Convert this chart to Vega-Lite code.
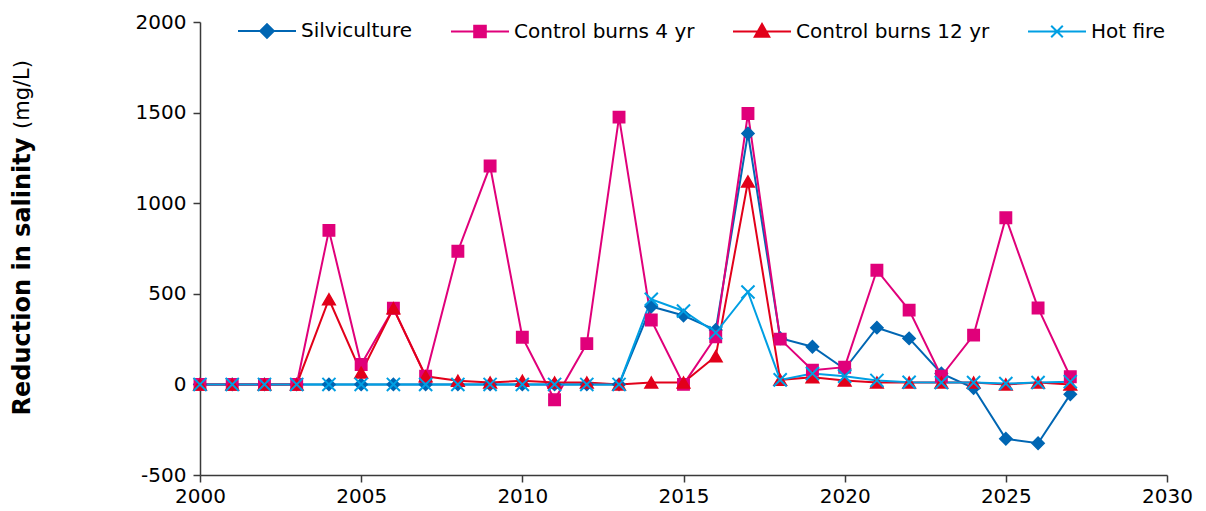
{
  "$schema": "https://vega.github.io/schema/vega-lite/v6.json",
  "width": 967,
  "height": 453,
  "autosize": {"type": "none"},
  "padding": {"left": 200, "top": 22, "right": 39, "bottom": 36},
  "background": "white",
  "config": {
    "view": {"stroke": null},
    "axis": {
      "grid": false,
      "domainColor": "#3a3a3a",
      "domainWidth": 1.5,
      "tickColor": "#3a3a3a",
      "tickWidth": 1.5,
      "tickSize": 7,
      "labelFont": "DejaVu Sans",
      "labelFontSize": 20,
      "labelColor": "#000000",
      "labelFlush": false,
      "titleFont": "DejaVu Sans",
      "titleColor": "#000000"
    }
  },
  "data": {
    "values": [
      {"year": 2000, "Silviculture": 0, "Control burns 4 yr": 0, "Control burns 12 yr": 0, "Hot fire": 0},
      {"year": 2001, "Silviculture": 0, "Control burns 4 yr": 0, "Control burns 12 yr": 0, "Hot fire": 0},
      {"year": 2002, "Silviculture": 0, "Control burns 4 yr": 0, "Control burns 12 yr": 0, "Hot fire": 0},
      {"year": 2003, "Silviculture": 0, "Control burns 4 yr": 0, "Control burns 12 yr": 0, "Hot fire": 0},
      {"year": 2004, "Silviculture": 0, "Control burns 4 yr": 850, "Control burns 12 yr": 470, "Hot fire": 0},
      {"year": 2005, "Silviculture": 0, "Control burns 4 yr": 110, "Control burns 12 yr": 65, "Hot fire": 0},
      {"year": 2006, "Silviculture": 0, "Control burns 4 yr": 420, "Control burns 12 yr": 420, "Hot fire": 0},
      {"year": 2007, "Silviculture": 0, "Control burns 4 yr": 45, "Control burns 12 yr": 45, "Hot fire": 0},
      {"year": 2008, "Silviculture": 0, "Control burns 4 yr": 735, "Control burns 12 yr": 20, "Hot fire": 0},
      {"year": 2009, "Silviculture": 0, "Control burns 4 yr": 1205, "Control burns 12 yr": 10, "Hot fire": 0},
      {"year": 2010, "Silviculture": 0, "Control burns 4 yr": 260, "Control burns 12 yr": 20, "Hot fire": 0},
      {"year": 2011, "Silviculture": 0, "Control burns 4 yr": -85, "Control burns 12 yr": 10, "Hot fire": 0},
      {"year": 2012, "Silviculture": 0, "Control burns 4 yr": 225, "Control burns 12 yr": 10, "Hot fire": 0},
      {"year": 2013, "Silviculture": 0, "Control burns 4 yr": 1475, "Control burns 12 yr": 0, "Hot fire": 0},
      {"year": 2014, "Silviculture": 430, "Control burns 4 yr": 355, "Control burns 12 yr": 10, "Hot fire": 470},
      {"year": 2015, "Silviculture": 380, "Control burns 4 yr": 0, "Control burns 12 yr": 10, "Hot fire": 405},
      {"year": 2016, "Silviculture": 300, "Control burns 4 yr": 263, "Control burns 12 yr": 155, "Hot fire": 285},
      {"year": 2017, "Silviculture": 1385, "Control burns 4 yr": 1495, "Control burns 12 yr": 1120, "Hot fire": 510},
      {"year": 2018, "Silviculture": 255, "Control burns 4 yr": 250, "Control burns 12 yr": 25, "Hot fire": 25},
      {"year": 2019, "Silviculture": 208, "Control burns 4 yr": 78, "Control burns 12 yr": 40, "Hot fire": 60},
      {"year": 2020, "Silviculture": 85, "Control burns 4 yr": 95, "Control burns 12 yr": 22, "Hot fire": 45},
      {"year": 2021, "Silviculture": 313, "Control burns 4 yr": 630, "Control burns 12 yr": 10, "Hot fire": 22},
      {"year": 2022, "Silviculture": 254, "Control burns 4 yr": 410, "Control burns 12 yr": 10, "Hot fire": 12},
      {"year": 2023, "Silviculture": 60, "Control burns 4 yr": 45, "Control burns 12 yr": 10, "Hot fire": 10},
      {"year": 2024, "Silviculture": -20, "Control burns 4 yr": 272, "Control burns 12 yr": 10, "Hot fire": 10},
      {"year": 2025, "Silviculture": -300, "Control burns 4 yr": 920, "Control burns 12 yr": 0, "Hot fire": 5},
      {"year": 2026, "Silviculture": -325, "Control burns 4 yr": 422, "Control burns 12 yr": 10, "Hot fire": 10},
      {"year": 2027, "Silviculture": -55, "Control burns 4 yr": 42, "Control burns 12 yr": 0, "Hot fire": 15}
    ]
  },
  "transform": [
    {"fold": ["Silviculture", "Control burns 4 yr", "Control burns 12 yr", "Hot fire"], "as": ["series", "value"]}
  ],
  "encoding": {
    "x": {
      "field": "year",
      "type": "quantitative",
      "scale": {"domain": [2000, 2030], "nice": false, "zero": false},
      "axis": {"values": [2000, 2005, 2010, 2015, 2020, 2025, 2030], "format": "d", "labelPadding": 4, "title": null}
    },
    "color": {
      "field": "series",
      "type": "nominal",
      "scale": {
        "domain": ["Silviculture", "Control burns 4 yr", "Control burns 12 yr", "Hot fire"],
        "range": ["#0066b3", "#e0007a", "#e2001a", "#009fe3"]
      },
      "legend": null
    }
  },
  "layer": [
    {
      "mark": {"type": "line", "strokeWidth": 2},
      "encoding": {
        "y": {
          "field": "value",
          "type": "quantitative",
          "scale": {"domain": [-500, 2000], "nice": false},
          "axis": {
            "values": [-500, 0, 500, 1000, 1500, 2000],
            "format": "d",
            "labelExpr": "replace(datum.label, '\u2212', '-')",
            "labelPadding": 7,
            "title": "Reduction in salinity",
            "titleFontWeight": "bold",
            "titleFontSize": 24,
            "titleX": -178,
            "titleY": 254,
            "titleAngle": 270,
            "titleBaseline": "middle",
            "titleAlign": "center"
          }
        },
        "color": {
          "field": "series",
          "type": "nominal",
          "scale": {
            "domain": ["Silviculture", "Control burns 4 yr", "Control burns 12 yr", "Hot fire"],
            "range": ["#0066b3", "#e0007a", "#e2001a", "#009fe3"]
          },
          "legend": {
            "orient": "none",
            "legendX": 37,
            "legendY": -21,
            "direction": "horizontal",
            "title": null,
            "symbolSize": 3364,
            "symbolStrokeWidth": 2,
            "symbolType": "stroke",
            "labelFont": "DejaVu Sans",
            "labelFontSize": 20,
            "labelColor": "#000000",
            "labelOffset": 4,
            "labelLimit": 400,
            "columnPadding": 34,
            "encode": {
              "symbols": {
                "update": {
                  "shape": {"signal": "datum.value === 'Silviculture' ? 'M-1,0H1M0,-0.235L0.235,0L0,0.235L-0.235,0Z' : datum.value === 'Control burns 4 yr' ? 'M-1,0H1M-0.2,-0.2H0.2V0.2H-0.2Z' : datum.value === 'Control burns 12 yr' ? 'M-1,0H1M0,-0.26L0.25,0.18H-0.25Z' : 'M-1,0H1M-0.2,-0.2L0.2,0.2M-0.2,0.2L0.2,-0.2'"},
                  "fill": {"scale": "color", "field": "value"},
                  "stroke": {"scale": "color", "field": "value"},
                  "strokeWidth": {"value": 2}
                }
              }
            }
          }
        }
      }
    },
    {
      "transform": [{"filter": {"field": "series", "equal": "Silviculture"}}],
      "mark": {"type": "point", "shape": "diamond", "filled": true, "size": 150, "stroke": "#0066b3", "strokeWidth": 1.5, "opacity": 1},
      "encoding": {
        "y": {
          "field": "value",
          "type": "quantitative",
          "scale": {"domain": [-500, 2000], "nice": false},
          "axis": {
            "orient": "right",
            "domain": false,
            "ticks": false,
            "labels": false,
            "title": "(mg/L)",
            "titleFontWeight": "normal",
            "titleFontSize": 21,
            "titleX": -1145,
            "titleY": 72,
            "titleAngle": 270,
            "titleBaseline": "middle",
            "titleAlign": "center"
          }
        }
      }
    },
    {
      "transform": [{"filter": {"field": "series", "equal": "Control burns 4 yr"}}],
      "mark": {"type": "point", "shape": "square", "filled": true, "size": 130, "stroke": "#e0007a", "strokeWidth": 1.5, "opacity": 1},
      "encoding": {
        "y": {"field": "value", "type": "quantitative", "scale": {"domain": [-500, 2000], "nice": false}, "axis": null}
      }
    },
    {
      "transform": [{"filter": {"field": "series", "equal": "Control burns 12 yr"}}],
      "mark": {"type": "point", "shape": "triangle-up", "filled": true, "size": 160, "stroke": "#e2001a", "strokeWidth": 1.5, "opacity": 1},
      "encoding": {
        "y": {"field": "value", "type": "quantitative", "scale": {"domain": [-500, 2000], "nice": false}, "axis": null}
      }
    },
    {
      "transform": [{"filter": {"field": "series", "equal": "Hot fire"}}],
      "mark": {"type": "point", "shape": "M-1.15,-1.15L1.15,1.15M-1.15,1.15L1.15,-1.15", "filled": false, "size": 130, "strokeWidth": 2, "opacity": 1},
      "encoding": {
        "y": {"field": "value", "type": "quantitative", "scale": {"domain": [-500, 2000], "nice": false}, "axis": null}
      }
    }
  ],
  "resolve": {"axis": {"y": "independent"}}
}
